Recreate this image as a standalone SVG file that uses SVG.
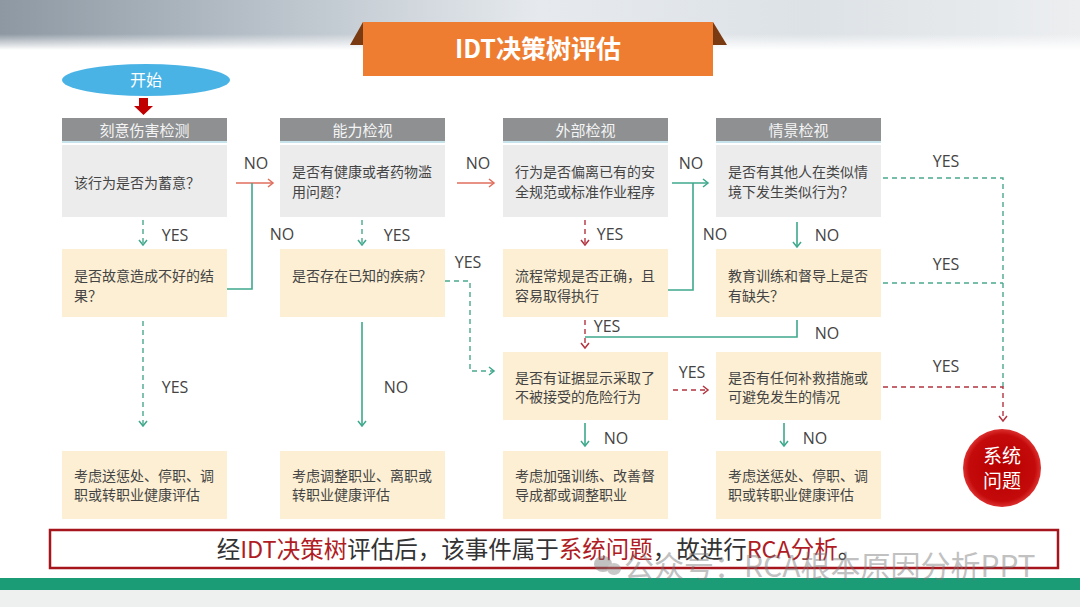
<svg xmlns="http://www.w3.org/2000/svg" width="1080" height="607" viewBox="0 0 1080 607">
<defs>
  <linearGradient id="topbg" x1="0" y1="0" x2="1" y2="0">
    <stop offset="0" stop-color="#8d98a2"/>
    <stop offset="0.25" stop-color="#b9c2ca"/>
    <stop offset="0.5" stop-color="#e6eaee"/>
    <stop offset="0.75" stop-color="#dde2e6"/>
    <stop offset="1" stop-color="#eceef0"/>
  </linearGradient>
  <linearGradient id="fade" x1="0" y1="0" x2="0" y2="1">
    <stop offset="0" stop-color="#ffffff" stop-opacity="0"/>
    <stop offset="1" stop-color="#ffffff" stop-opacity="1"/>
  </linearGradient>
  <radialGradient id="circ" cx="0.5" cy="0.5" r="0.5">
    <stop offset="0" stop-color="#b80000"/>
    <stop offset="0.85" stop-color="#c40a0a"/>
    <stop offset="1" stop-color="#dc3030"/>
  </radialGradient>
  <marker id="mg" markerWidth="10" markerHeight="10" refX="7" refY="5" orient="auto" markerUnits="userSpaceOnUse">
    <path d="M2,1 L7,5 L2,9" fill="none" stroke="#3ea88c" stroke-width="1.5"/>
  </marker>
  <marker id="mr" markerWidth="10" markerHeight="10" refX="7" refY="5" orient="auto" markerUnits="userSpaceOnUse">
    <path d="M2,1 L7,5 L2,9" fill="none" stroke="#e06c5c" stroke-width="1.5"/>
  </marker>
  <marker id="md" markerWidth="10" markerHeight="10" refX="7" refY="5" orient="auto" markerUnits="userSpaceOnUse">
    <path d="M2,1 L7,5 L2,9" fill="none" stroke="#b23440" stroke-width="1.5"/>
  </marker>
</defs>
<style>
  .hdr{fill:#8e9092}
  .hdrl{fill:#c7e3ec}
  .q{fill:#ececec}
  .y{fill:#fcefd3}
  .t{font-family:"Noto Sans CJK SC","Noto Sans",sans-serif;font-size:14px;fill:#444}
  .ht{font-family:"Noto Sans CJK SC","Noto Sans",sans-serif;font-size:15px;fill:#f4f4f4;text-anchor:middle}
  .lb{font-family:"Open Sans","Liberation Sans",sans-serif;font-size:16px;fill:#444;text-anchor:middle}
  .g{stroke:#3ea88c;stroke-width:1.6;fill:none}
  .gd{stroke:#4aa88e;stroke-width:1.4;fill:none;stroke-dasharray:5 4}
  .r{stroke:#e06c5c;stroke-width:1.6;fill:none}
  .rd{stroke:#b23440;stroke-width:1.4;fill:none;stroke-dasharray:5 4}
</style>

<!-- background -->
<rect x="0" y="0" width="1080" height="607" fill="#ffffff"/>
<rect x="0" y="0" width="1080" height="50" fill="url(#topbg)"/>
<rect x="0" y="34" width="1080" height="16" fill="url(#fade)"/>

<!-- title banner -->
<g id="title">
  <polygon points="363,22 350,45 363,45" fill="#7a3a12"/>
  <polygon points="713,22 727,45 713,45" fill="#7a3a12"/>
  <rect x="363" y="22" width="350" height="54" fill="#ee7d31"/>
  <text x="538" y="58" font-family="Noto Sans CJK SC,Noto Sans,sans-serif" font-size="25" font-weight="bold" fill="#ffffff" text-anchor="middle">IDT决策树评估</text>
</g>

<!-- start -->
<g id="start">
  <ellipse cx="146" cy="80" rx="84" ry="16" fill="#4ab3e6"/>
  <text x="146" y="86" font-family="Noto Sans CJK SC,Noto Sans,sans-serif" font-size="16" fill="#ffffff" text-anchor="middle">开始</text>
  <polygon points="139,98 148,98 148,106 153,106 143.5,115 134,106 139,106" fill="#c00000"/>
</g>

<!-- headers -->
<g id="h1"><rect class="hdr" x="62" y="118" width="165" height="25"/><rect class="hdrl" x="62" y="141" width="165" height="2"/><text class="ht" x="144.5" y="136">刻意伤害检测</text></g>
<g id="h2"><rect class="hdr" x="280" y="118" width="165" height="25"/><rect class="hdrl" x="280" y="141" width="165" height="2"/><text class="ht" x="362.5" y="136">能力检视</text></g>
<g id="h3"><rect class="hdr" x="503" y="118" width="165" height="25"/><rect class="hdrl" x="503" y="141" width="165" height="2"/><text class="ht" x="585.5" y="136">外部检视</text></g>
<g id="h4"><rect class="hdr" x="716" y="118" width="165" height="25"/><rect class="hdrl" x="716" y="141" width="165" height="2"/><text class="ht" x="798.5" y="136">情景检视</text></g>

<!-- row 1 -->
<g id="q1"><rect class="q" x="62" y="145" width="165" height="72"/><text class="t" x="74" y="188">该行为是否为蓄意？</text></g>
<g id="q2"><rect class="q" x="280" y="145" width="165" height="72"/><text class="t" x="292" y="177">是否有健康或者药物滥</text><text class="t" x="292" y="197">用问题？</text></g>
<g id="q3"><rect class="q" x="503" y="145" width="165" height="72"/><text class="t" x="515" y="177">行为是否偏离已有的安</text><text class="t" x="515" y="197">全规范或标准作业程序</text></g>
<g id="q4"><rect class="q" x="716" y="145" width="165" height="72"/><text class="t" x="728" y="177">是否有其他人在类似情</text><text class="t" x="728" y="197">境下发生类似行为？</text></g>

<!-- row 2 -->
<g id="y1"><rect class="y" x="62" y="249" width="165" height="68"/><text class="t" x="74" y="281">是否故意造成不好的结</text><text class="t" x="74" y="301">果？</text></g>
<g id="y2"><rect class="y" x="280" y="249" width="165" height="68"/><text class="t" x="292" y="281">是否存在已知的疾病？</text></g>
<g id="y3"><rect class="y" x="503" y="249" width="165" height="68"/><text class="t" x="515" y="281">流程常规是否正确，且</text><text class="t" x="515" y="301">容易取得执行</text></g>
<g id="y4"><rect class="y" x="716" y="249" width="165" height="68"/><text class="t" x="728" y="281">教育训练和督导上是否</text><text class="t" x="728" y="301">有缺失？</text></g>

<!-- row 3 -->
<g id="r3a"><rect class="y" x="503" y="352" width="165" height="68"/><text class="t" x="515" y="383">是否有证据显示采取了</text><text class="t" x="515" y="402">不被接受的危险行为</text></g>
<g id="r3b"><rect class="y" x="716" y="352" width="165" height="68"/><text class="t" x="728" y="383">是否有任何补救措施或</text><text class="t" x="728" y="402">可避免发生的情况</text></g>

<!-- row 4 -->
<g id="o1"><rect class="y" x="62" y="451" width="165" height="68"/><text class="t" x="74" y="481">考虑送惩处、停职、调</text><text class="t" x="74" y="500">职或转职业健康评估</text></g>
<g id="o2"><rect class="y" x="280" y="451" width="165" height="68"/><text class="t" x="292" y="481">考虑调整职业、离职或</text><text class="t" x="292" y="500">转职业健康评估</text></g>
<g id="o3"><rect class="y" x="503" y="451" width="165" height="68"/><text class="t" x="515" y="481">考虑加强训练、改善督</text><text class="t" x="515" y="500">导成都或调整职业</text></g>
<g id="o4"><rect class="y" x="716" y="451" width="165" height="68"/><text class="t" x="728" y="481">考虑送惩处、停职、调</text><text class="t" x="728" y="500">职或转职业健康评估</text></g>

<!-- system problem -->
<g id="sys">
  <circle cx="1002" cy="468" r="39" fill="url(#circ)"/>
  <text x="1002" y="463" font-family="Noto Sans CJK SC,Noto Sans,sans-serif" font-size="19" fill="#ffffff" text-anchor="middle">系统</text>
  <text x="1002" y="488" font-family="Noto Sans CJK SC,Noto Sans,sans-serif" font-size="19" fill="#ffffff" text-anchor="middle">问题</text>
</g>

<!-- connectors -->
<g id="connectors">
  <line class="r" x1="236" y1="183" x2="273" y2="183" marker-end="url(#mr)"/>
  <polyline class="g" points="227,289 252,289 252,183"/>
  <line class="gd" x1="143" y1="220" x2="143" y2="245" marker-end="url(#mg)"/>
  <line class="gd" x1="143" y1="321" x2="143" y2="426" marker-end="url(#mg)"/>
  <line class="r" x1="457" y1="183" x2="494" y2="183" marker-end="url(#mr)"/>
  <line class="gd" x1="362" y1="220" x2="362" y2="245" marker-end="url(#mg)"/>
  <line class="g" x1="362" y1="322" x2="362" y2="426" marker-end="url(#mg)"/>
  <polyline class="gd" points="445,281 470,281 470,371 494,371" marker-end="url(#mg)"/>
  <line class="rd" x1="585" y1="220" x2="585" y2="245" marker-end="url(#md)"/>
  <line class="g" x1="672" y1="183" x2="708" y2="183" marker-end="url(#mg)"/>
  <polyline class="g" points="668,290 693,290 693,183"/>
  <line class="rd" x1="585" y1="320" x2="585" y2="348" marker-end="url(#md)"/>
  <line class="g" x1="797" y1="222" x2="797" y2="247" marker-end="url(#mg)"/>
  <polyline class="g" points="797,320 797,337 585,337"/>
  <line class="g" x1="585" y1="423" x2="585" y2="446" marker-end="url(#mg)"/>
  <line class="rd" x1="673" y1="390" x2="708" y2="390" marker-end="url(#md)"/>
  <line class="g" x1="784" y1="423" x2="784" y2="446" marker-end="url(#mg)"/>
  <polyline class="gd" points="883,178 1003,178 1003,387"/>
  <line class="gd" x1="883" y1="283" x2="1003" y2="283"/>
  <polyline class="rd" points="883,387 1003,387 1003,421" marker-end="url(#md)"/>
</g>

<!-- connector labels -->
<g id="labels">
  <text class="lb" x="256" y="169">NO</text>
  <text class="lb" x="175" y="241">YES</text>
  <text class="lb" x="282" y="240">NO</text>
  <text class="lb" x="397" y="241">YES</text>
  <text class="lb" x="468" y="268">YES</text>
  <text class="lb" x="478" y="169">NO</text>
  <text class="lb" x="610" y="240">YES</text>
  <text class="lb" x="691" y="169">NO</text>
  <text class="lb" x="715" y="240">NO</text>
  <text class="lb" x="827" y="241">NO</text>
  <text class="lb" x="607" y="332">YES</text>
  <text class="lb" x="827" y="339">NO</text>
  <text class="lb" x="175" y="393">YES</text>
  <text class="lb" x="396" y="393">NO</text>
  <text class="lb" x="692" y="378">YES</text>
  <text class="lb" x="616" y="444">NO</text>
  <text class="lb" x="815" y="444">NO</text>
  <text class="lb" x="946" y="167">YES</text>
  <text class="lb" x="946" y="270">YES</text>
  <text class="lb" x="946" y="372">YES</text>
</g>

<!-- conclusion -->
<g id="conclusion">
  <rect x="50" y="530" width="1008" height="38" fill="#ffffff" stroke="#a6151c" stroke-width="2.5"/>
  <text x="539" y="558" font-family="Noto Sans CJK SC,Noto Sans,sans-serif" font-size="23.5" fill="#333" text-anchor="middle">经<tspan fill="#b01c24">IDT决策树</tspan>评估后，该事件属于<tspan fill="#b01c24">系统问题</tspan>，故进行<tspan fill="#b01c24">RCA分析</tspan>。</text>
</g>

<!-- footer -->
<rect x="0" y="578" width="1080" height="12" fill="#1c9b77"/>
<rect x="0" y="590" width="1080" height="17" fill="#eef0f0"/>
<g id="wm" opacity="0.45">
  <ellipse cx="603" cy="564" rx="9" ry="8" fill="#777"/>
  <ellipse cx="614" cy="569" rx="7" ry="6" fill="#888"/>
  <text x="624" y="577" font-family="Noto Sans CJK SC,Noto Sans,sans-serif" font-size="30" fill="#777">公众号：RCA根本原因分析PPT</text>
</g>
</svg>
